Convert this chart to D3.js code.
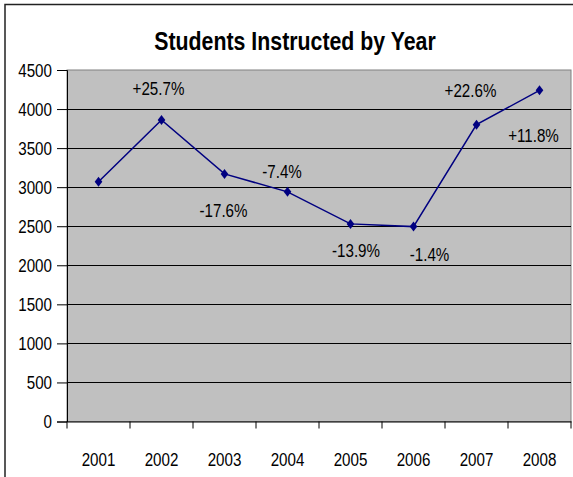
<!DOCTYPE html>
<html>
<head>
<meta charset="utf-8">
<script src="https://cdn.jsdelivr.net/npm/d3@7"></script>
<style>
  html, body { margin: 0; padding: 0; background: #fff; }
  svg { display: block; }
  text { font-family: "Liberation Sans", Arial, sans-serif; }
</style>
</head>
<body>
<svg id="chart" width="573" height="477"></svg>
<script>
// ---- data ----
const years = ["2001", "2002", "2003", "2004", "2005", "2006", "2007", "2008"];
const students = [3070, 3860, 3170, 2940, 2530, 2495, 3800, 4240];
const yTicks = [0, 500, 1000, 1500, 2000, 2500, 3000, 3500, 4000, 4500];
const changeYears = ["2002", "2003", "2004", "2005", "2006", "2007", "2008"];
const changeLabels = ["+25.7%", "-17.6%", "-7.4%", "-13.9%", "-1.4%", "+22.6%", "+11.8%"];
const title = "Students Instructed by Year";

// ---- layout (not data) ----
const labelOffsets = [[-3, -25], [-1, 43], [-5.5, -13.5], [5.5, 33], [16, 34.5], [-6, -28], [-6, 51.5]];
const NARROW = 0.82; // horizontal condensing to mimic a narrow face

const W = 573, H = 477;
const plot = { left: 67, right: 571, top: 70, bottom: 421.5 };

const svg = d3.select("#chart");

function narrowText(g, px, py, str, size, anchor, weight) {
  return g.append("text")
    .attr("transform", `translate(${px},${py}) scale(${NARROW},1)`)
    .attr("text-anchor", anchor)
    .attr("font-size", size)
    .attr("font-weight", weight || "normal")
    .attr("fill", "#000")
    .text(str);
}

// outer chart border
svg.append("rect")
  .attr("x", 5).attr("y", 4.5)
  .attr("width", W + 20).attr("height", H + 20)
  .attr("fill", "#fff").attr("stroke", "#222").attr("stroke-width", 1.5);

const x = d3.scaleBand().domain(years).range([plot.left, plot.right]).padding(0);
const y = d3.scaleLinear().domain([0, 4500]).range([plot.bottom, plot.top]);

// plot area background
svg.append("rect")
  .attr("x", plot.left).attr("y", plot.top)
  .attr("width", plot.right - plot.left).attr("height", plot.bottom - plot.top)
  .attr("fill", "#c0c0c0").attr("stroke", "#808080").attr("stroke-width", 1);

// gridlines
svg.append("g")
  .selectAll("line")
  .data(yTicks.filter(t => t > 0 && t < 4500))
  .join("line")
  .attr("x1", plot.left).attr("x2", plot.right)
  .attr("y1", d => Math.round(y(d)) + 0.5).attr("y2", d => Math.round(y(d)) + 0.5)
  .attr("stroke", "#000").attr("stroke-width", 1);

// y axis (line + ticks via d3 axis, labels drawn condensed)
const yAxis = svg.append("g")
  .attr("transform", `translate(${plot.left},0)`)
  .call(d3.axisLeft(y).tickValues(yTicks).tickSize(10).tickFormat(""));
yAxis.select(".domain").attr("stroke", "#000");
yAxis.selectAll(".tick line").attr("stroke", "#000");
const yLab = svg.append("g");
yTicks.forEach(t => narrowText(yLab, plot.left - 15, y(t) + 6.8, d3.format("d")(t), 18.5, "end"));

// x axis
const xAxis = svg.append("g")
  .attr("transform", `translate(0,${plot.bottom})`)
  .call(d3.axisBottom(x).tickSize(0).tickFormat(""));
xAxis.select(".domain").attr("stroke", "#000");
svg.append("g")
  .selectAll("line")
  .data(years.map(d => x(d)).concat([x(years[years.length - 1]) + x.bandwidth()]))
  .join("line")
  .attr("x1", d => d).attr("x2", d => d)
  .attr("y1", plot.bottom).attr("y2", plot.bottom + 7)
  .attr("stroke", "#000");
const cx = d => x(d) + x.bandwidth() / 2;
const xLab = svg.append("g");
years.forEach(yr => narrowText(xLab, cx(yr), plot.bottom + 44, yr, 18.5, "middle"));

// line
const pts = years.map((yr, i) => [cx(yr), y(students[i])]);
svg.append("path")
  .attr("d", d3.line()(pts))
  .attr("fill", "none").attr("stroke", "#000080").attr("stroke-width", 1.5);

// diamond markers
svg.append("g")
  .selectAll("path")
  .data(pts)
  .join("path")
  .attr("d", d => `M${d[0]},${d[1] - 5}L${d[0] + 3.8},${d[1]}L${d[0]},${d[1] + 5}L${d[0] - 3.8},${d[1]}Z`)
  .attr("fill", "#000080");

// change labels
const cLab = svg.append("g");
changeLabels.forEach((lab, i) => {
  const yr = changeYears[i];
  narrowText(cLab,
    cx(yr) + labelOffsets[i][0],
    y(students[years.indexOf(yr)]) + labelOffsets[i][1],
    lab, 18.5, "middle");
});

// title
narrowText(svg, 295, 50, title, 26, "middle", "bold");
</script>
</body>
</html>
